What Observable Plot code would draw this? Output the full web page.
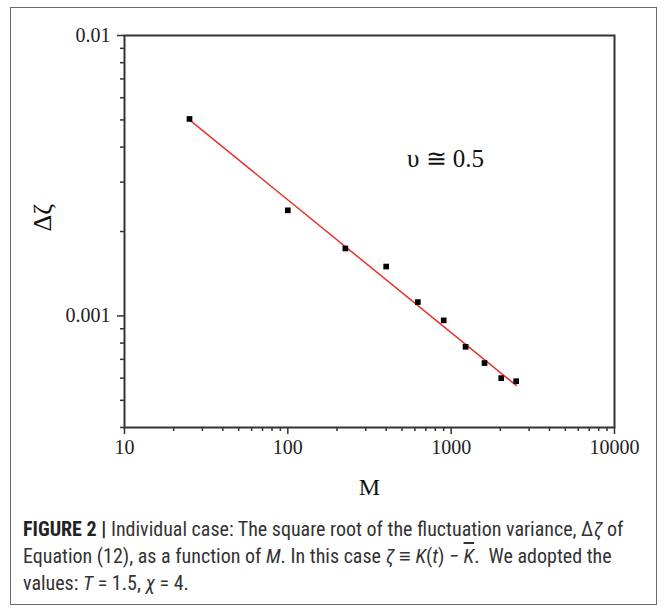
<!DOCTYPE html>
<html>
<head>
<meta charset="utf-8">
<script src="https://cdn.jsdelivr.net/npm/d3@7"></script>
<script src="https://cdn.jsdelivr.net/npm/@observablehq/plot@0.6"></script>
<style>
  html, body { margin: 0; padding: 0; background: #fff; }
  #wrap { position: relative; width: 668px; height: 612px; overflow: hidden; }
  #border { position: absolute; left: 10px; top: 7px; width: 645px; height: 596px; border: 1.5px solid #6a6a6a; }
  #chart { position: absolute; left: 0; top: 0; }
  #caption { position: absolute; left: 23px; top: 516px; font-family: "Liberation Sans Narrow", "Roboto Condensed", Roboto, sans-serif; font-size: 20px; line-height: 27px; color: #333; white-space: nowrap; }
  #caption b { color: #222; }
  .ol { text-decoration: overline; }
</style>
</head>
<body>
<div id="wrap">
  <div id="border"></div>
  <div id="chart"></div>
  <div id="caption"><b>FIGURE 2 |</b> Individual case: The square root of the fluctuation variance, Δ<i>ζ</i> of<br>Equation (12), as a function of <i>M</i>. In this case <i>ζ</i> ≡ <i>K</i>(<i>t</i>) − <span class="ol"><i>K</i></span>.&nbsp; We adopted the<br>values: <i>T</i> = 1.5, <i>χ</i> = 4.</div>
</div>
<script>
// Data
const M = [25, 100, 225, 400, 625, 900, 1225, 1600, 2025, 2500];
const dZeta = [0.00504, 0.00238, 0.00174, 0.00150, 0.00112, 0.000964, 0.000776, 0.000679, 0.000600, 0.000585];
const fitM = [25, 2500];
const fitDZeta = [0.00500, 0.000565];
const xMajorTicks = [10, 100, 1000, 10000];
const xMinorTicks = [20, 30, 40, 50, 60, 70, 80, 90, 200, 300, 400, 500, 600, 700, 800, 900, 2000, 3000, 4000, 5000, 6000, 7000, 8000, 9000];
const yMajorTicks = [0.001, 0.01];
const yMinorTicks = [0.0004, 0.0005, 0.0006, 0.0007, 0.0008, 0.0009, 0.002, 0.003, 0.004, 0.005, 0.006, 0.007, 0.008, 0.009];
const annotationText = ["υ ≅ 0.5"];
const annotationM = [1590];
const annotationDZ = [0.00362];
const xLabel = "M";
const yLabel = "Δζ";

const points = M.map((m, i) => ({m, v: dZeta[i]}));
const fit = fitM.map((m, i) => ({m, v: fitDZeta[i]}));
const ann = annotationText.map((t, i) => ({t, m: annotationM[i], v: annotationDZ[i]}));

const chart = Plot.plot({
  width: 668,
  height: 510,
  marginLeft: 124,
  marginRight: 54,
  marginTop: 35,
  marginBottom: 83,
  style: {fontFamily: "'Liberation Serif', 'DejaVu Serif', serif", fontSize: "20px", color: "#222", background: "transparent"},
  x: {type: "log", domain: [10, 10000]},
  y: {type: "log", domain: [0.0004, 0.01]},
  marks: [
    Plot.axisX({ticks: xMinorTicks, tickSize: 4, tickFormat: () => "", label: null, stroke: "#333", strokeWidth: 1.5}),
    Plot.axisX({ticks: xMajorTicks, tickSize: 7, tickPadding: 5, tickFormat: d => String(d), label: null, stroke: "#333", strokeWidth: 1.5, fill: "#222"}),
    Plot.axisY({ticks: yMinorTicks, tickSize: 4, tickFormat: () => "", label: null, stroke: "#333", strokeWidth: 1.5}),
    Plot.axisY({ticks: yMajorTicks, tickSize: 7, tickPadding: 7, tickFormat: d => String(d), label: null, stroke: "#333", strokeWidth: 1.5, fill: "#222"}),
    Plot.frame({stroke: "#333", strokeWidth: 2}),
    Plot.line(fit, {x: "m", y: "v", stroke: "#e8312a", strokeWidth: 1.5}),
    Plot.dot(points, {x: "m", y: "v", symbol: "square", r: 3.2, fill: "#000", stroke: "none"}),
    Plot.text(ann, {x: "m", y: "v", text: "t", textAnchor: "end", fontSize: 25, fill: "#111"}),
    Plot.text([xLabel], {frameAnchor: "bottom", dy: 67, fontSize: 24, fill: "#111"}),
    Plot.text([yLabel], {frameAnchor: "left", dx: -82, rotate: -90, fontSize: 26, fill: "#111"})
  ]
});
document.getElementById("chart").appendChild(chart);
</script>
</body>
</html>
